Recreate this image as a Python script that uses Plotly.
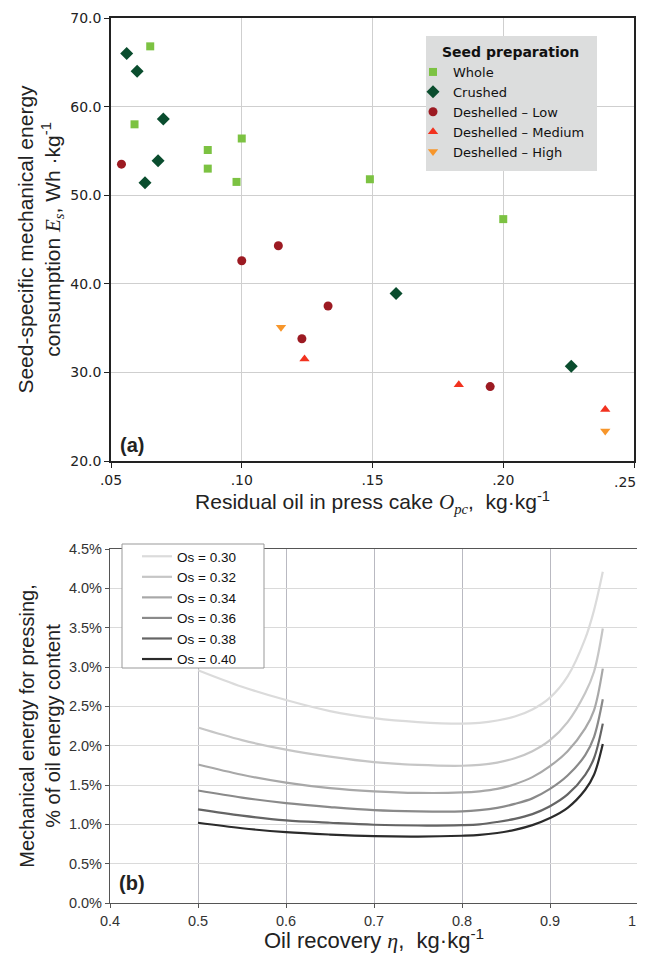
import plotly.graph_objects as go

# ---------- Panel (a) data ----------
whole_x = [0.065, 0.059, 0.087, 0.087, 0.100, 0.098, 0.149, 0.200]
whole_y = [66.8, 58.0, 55.1, 53.0, 56.4, 51.5, 51.8, 47.3]
crushed_x = [0.056, 0.060, 0.070, 0.068, 0.063, 0.159, 0.226]
crushed_y = [66.0, 64.0, 58.6, 53.9, 51.4, 38.9, 30.7]
low_x = [0.054, 0.114, 0.100, 0.133, 0.123, 0.195]
low_y = [53.5, 44.3, 42.6, 37.5, 33.8, 28.4]
med_x = [0.124, 0.183, 0.239]
med_y = [31.5, 28.6, 25.8]
high_x = [0.115, 0.239]
high_y = [35.1, 23.4]
x_ticks_a = [0.05, 0.10, 0.15, 0.20, 0.25]
x_ticklabels_a = [".05", ".10", ".15", ".20", ".25"]
y_ticks_a = [20, 30, 40, 50, 60, 70]

# ---------- Panel (b) data ----------
eta = [0.50, 0.55, 0.60, 0.65, 0.70, 0.75, 0.80, 0.82, 0.84, 0.86, 0.88, 0.90, 0.92, 0.94, 0.95, 0.96]
os30 = [2.96, 2.75, 2.58, 2.44, 2.35, 2.30, 2.28, 2.29, 2.32, 2.37, 2.46, 2.61, 2.88, 3.36, 3.72, 4.21]
os32 = [2.23, 2.07, 1.95, 1.86, 1.79, 1.755, 1.745, 1.755, 1.785, 1.84, 1.93, 2.07, 2.30, 2.67, 2.94, 3.49]
os34 = [1.76, 1.63, 1.53, 1.46, 1.42, 1.40, 1.405, 1.42, 1.45, 1.51, 1.60, 1.74, 1.93, 2.22, 2.45, 2.98]
os36 = [1.43, 1.34, 1.27, 1.22, 1.18, 1.165, 1.165, 1.18, 1.21, 1.26, 1.33, 1.45, 1.62, 1.88, 2.11, 2.59]
os38 = [1.19, 1.11, 1.05, 1.02, 0.995, 0.985, 0.99, 1.00, 1.03, 1.07, 1.13, 1.23, 1.38, 1.63, 1.84, 2.28]
os40 = [1.02, 0.95, 0.90, 0.87, 0.85, 0.845, 0.855, 0.865, 0.89, 0.93, 0.99, 1.08, 1.21, 1.44, 1.63, 2.02]
os_labels = ["Os = 0.30", "Os = 0.32", "Os = 0.34", "Os = 0.36", "Os = 0.38", "Os = 0.40"]
os_series = [os30, os32, os34, os36, os38, os40]
os_colors = ["#dbdbdb", "#c6c6c6", "#a8a8a8", "#8a8a8a", "#656565", "#2b2b2b"]
x_ticks_b = [0.4, 0.5, 0.6, 0.7, 0.8, 0.9, 1.0]
x_ticklabels_b = ["0.4", "0.5", "0.6", "0.7", "0.8", "0.9", "1"]
y_ticks_b = [0, 0.5, 1.0, 1.5, 2.0, 2.5, 3.0, 3.5, 4.0, 4.5]
y_ticklabels_b = ["0.0%", "0.5%", "1.0%", "1.5%", "2.0%", "2.5%", "3.0%", "3.5%", "4.0%", "4.5%"]

# page body has an 8px margin: figure drawn at (8, 8); keep page free of scrollbars
OFF = 8
W, H = 645 - OFF, 961 - 2 * OFF

def fx(x):
    return (x - OFF) / W

def fy(y):
    return 1 - (y - OFF) / H

fig = go.Figure()

TOPFONT = "DejaVu Sans"
ARIAL = "Liberation Sans, Arial"
SERIF = "<span style=\"font-family:'Liberation Serif'\"><i>{}</i></span>"

def sc(x, y, name, symbol, color, size):
    fig.add_trace(go.Scatter(x=x, y=y, mode="markers", name=name,
                             marker=dict(symbol=symbol, color=color, size=size, line=dict(width=0)),
                             xaxis="x", yaxis="y", legend="legend"))

sc(whole_x, whole_y, "Whole", "square", "#7cc242", 8)
sc(crushed_x, crushed_y, "Crushed", "diamond", "#0a4d2e", 10)
sc(low_x, low_y, "Deshelled – Low", "circle", "#9c1a22", 9)
sc(med_x, med_y, "Deshelled – Medium", "triangle-up", "#f2321f", 9)
sc(high_x, high_y, "Deshelled – High", "triangle-down", "#f7962b", 9)

for lab, ser, col in zip(os_labels, os_series, os_colors):
    fig.add_trace(go.Scatter(x=eta, y=ser, mode="lines", name=lab,
                             line=dict(color=col, width=2.2, shape="spline", smoothing=1.0),
                             xaxis="x2", yaxis="y2", legend="legend2"))

def rect(x0, y0, x1, y1):
    return dict(x0=fx(x0), x1=fx(x1), y0=fy(y0), y1=fy(y1))

# the last tick label of each x axis sits at the page edge: draw it right-aligned
ticktext_a = x_ticklabels_a[:-1] + [""]
ticktext_b = x_ticklabels_b[:-1] + [""]

fig.update_layout(
    width=W, height=H, autosize=False,
    margin=dict(l=0, r=0, t=0, b=0),
    paper_bgcolor="white", plot_bgcolor="white",
    showlegend=True,
    xaxis=dict(domain=[fx(111), fx(634)], anchor="y", range=[0.05, 0.25], automargin=False,
               tickvals=x_ticks_a, ticktext=ticktext_a, ticklabeloverflow="allow",
               showgrid=True, gridcolor="#cfcfcf", gridwidth=1.2,
               showline=True, linecolor="#222", linewidth=1.5, mirror=True,
               ticks="outside", ticklen=5, tickcolor="#222",
               tickfont=dict(family=TOPFONT, size=14, color="#222"),
               zeroline=False,
               title=dict(text="Residual oil in press cake " + SERIF.format("O<sub>pc</sub>") + ",  kg·kg<sup>-1</sup>",
                          font=dict(family=ARIAL, size=21, color="#222"), standoff=8)),
    yaxis=dict(domain=[fy(461), fy(18)], anchor="x", range=[20, 70], automargin=False,
               tickvals=y_ticks_a, tickformat=".1f", ticklabeloverflow="allow",
               showgrid=True, gridcolor="#cfcfcf", gridwidth=1.2,
               showline=True, linecolor="#222", linewidth=1.5, mirror=True,
               ticks="outside", ticklen=5, tickcolor="#222",
               tickfont=dict(family=TOPFONT, size=14, color="#222"),
               zeroline=False,
               title=dict(text="Seed-specific mechanical energy<br>consumption " + SERIF.format("E<sub>s</sub>") + ", Wh ·kg<sup>-1</sup>",
                          font=dict(family=ARIAL, size=21, color="#222"), standoff=4)),
    xaxis2=dict(domain=[fx(110), fx(638)], anchor="y2", range=[0.4, 1.0], automargin=False,
                tickvals=x_ticks_b, ticktext=ticktext_b, ticklabeloverflow="allow",
                showgrid=True, gridcolor="#b9b9c1", gridwidth=1,
                showline=True, linecolor="#555", linewidth=1.2, mirror=True,
                ticks="outside", ticklen=4, tickcolor="#555",
                tickfont=dict(family=ARIAL, size=14.5, color="#333"),
                zeroline=False,
                title=dict(text="Oil recovery " + SERIF.format("η") + ",  kg·kg<sup>-1</sup>",
                           font=dict(family=ARIAL, size=22, color="#222"), standoff=2)),
    yaxis2=dict(domain=[fy(903), fy(549)], anchor="x2", range=[0, 4.5], automargin=False,
                tickvals=y_ticks_b, ticktext=y_ticklabels_b, ticklabeloverflow="allow",
                showgrid=True, gridcolor="#dadada", gridwidth=1,
                showline=True, linecolor="#555", linewidth=1.2, mirror=True,
                ticks="outside", ticklen=4, tickcolor="#555",
                tickfont=dict(family=ARIAL, size=14.5, color="#333"),
                zeroline=False,
                title=dict(text="Mechanical energy for pressing,<br>% of oil energy content",
                           font=dict(family=ARIAL, size=20, color="#222"), standoff=2)),
    legend=dict(x=fx(413), y=fy(57), xanchor="left", yanchor="top",
                bgcolor="rgba(0,0,0,0)", borderwidth=0,
                font=dict(family=TOPFONT, size=13, color="#111"),
                itemwidth=30, tracegroupgap=0),
    legend2=dict(x=fx(137), y=fy(541), xanchor="left", yanchor="top",
                 bgcolor="rgba(0,0,0,0)", borderwidth=0,
                 font=dict(family=ARIAL, size=13.5, color="#111"),
                 itemwidth=30, tracegroupgap=0),
    shapes=[
        dict(type="rect", xref="paper", yref="paper", layer="above",
             fillcolor="#dcdddd", line=dict(width=0), **rect(426, 36, 597, 171)),
        dict(type="rect", xref="paper", yref="paper", layer="above",
             fillcolor="white", line=dict(color="#999", width=1), **rect(122, 544, 264, 668)),
    ],
    annotations=[
        dict(text="<b>Seed preparation</b>", x=fx(511), y=fy(52), xref="paper", yref="paper",
             xanchor="center", yanchor="middle", showarrow=False,
             font=dict(family=TOPFONT, size=14, color="#111")),
        dict(text="<b>(a)</b>", x=fx(118), y=fy(445), xref="paper", yref="paper",
             xanchor="left", yanchor="middle", showarrow=False,
             font=dict(family=ARIAL, size=20, color="#222")),
        dict(text="<b>(b)</b>", x=fx(117), y=fy(883), xref="paper", yref="paper",
             xanchor="left", yanchor="middle", showarrow=False,
             font=dict(family=ARIAL, size=20, color="#222")),
        dict(text=x_ticklabels_a[-1], x=fx(637), y=fy(482), xref="paper", yref="paper",
             xanchor="right", yanchor="middle", showarrow=False, borderpad=0,
             font=dict(family=TOPFONT, size=14, color="#222")),
        dict(text=x_ticklabels_b[-1], x=fx(637), y=fy(921), xref="paper", yref="paper",
             xanchor="right", yanchor="middle", showarrow=False, borderpad=0,
             font=dict(family=ARIAL, size=14.5, color="#333")),
    ],
)

fig.write_html("out.html")
